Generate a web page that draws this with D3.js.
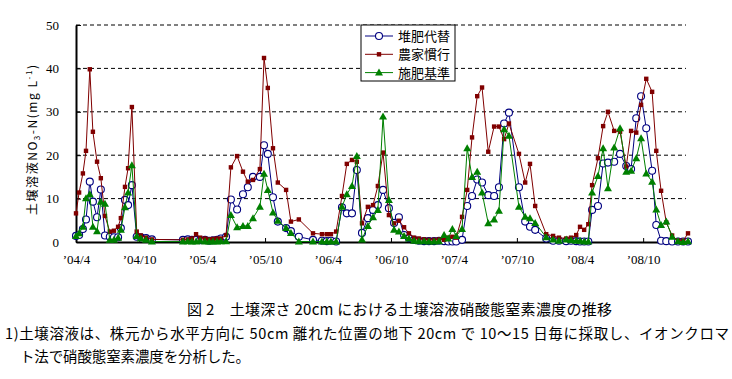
<!DOCTYPE html>
<html><head><meta charset="utf-8">
<script src="https://cdn.jsdelivr.net/npm/d3@7"></script>
<style>body{margin:0;background:#fff}svg{display:block}</style>
</head><body>
<script>
// sampling dates
const dates = [
"2004-04-01","2004-04-10","2004-04-21","2004-04-30","2004-05-11","2004-05-20","2004-06-01","2004-06-12","2004-06-24","2004-07-08","2004-07-20","2004-08-01","2004-08-09","2004-08-21","2004-08-30","2004-09-10","2004-09-24","2004-10-06","2004-10-21","2004-11-07",
"2005-02-05","2005-02-19","2005-03-03","2005-03-15","2005-03-27","2005-04-10","2005-04-22","2005-05-03","2005-05-15","2005-05-26",
"2005-06-10","2005-06-24","2005-07-12","2005-07-29","2005-08-12","2005-08-27","2005-09-16","2005-09-28","2005-10-09","2005-10-24","2005-11-07","2005-12-01","2005-12-15","2006-01-07","2006-02-17","2006-03-15","2006-03-29","2006-04-10","2006-04-25",
"2006-05-12","2006-05-26","2006-06-10","2006-06-24","2006-07-09","2006-07-26","2006-08-10","2006-08-24","2006-09-08","2006-09-25","2006-10-10","2006-10-24","2006-11-08","2006-11-22","2006-12-07","2006-12-21","2007-01-05","2007-01-19","2007-02-03","2007-02-17","2007-03-04","2007-03-16","2007-03-28","2007-04-08",
"2007-04-25","2007-05-10","2007-05-24","2007-06-08","2007-06-22","2007-07-10","2007-07-27","2007-08-10","2007-08-25","2007-09-08","2007-10-07","2007-10-25","2007-11-08","2007-11-23","2007-12-25","2008-01-14","2008-01-31","2008-02-21","2008-03-06","2008-03-21","2008-04-01","2008-04-13","2008-04-25",
"2008-05-06","2008-05-23","2008-06-07","2008-06-21","2008-07-09","2008-07-26","2008-08-13","2008-08-27","2008-09-11","2008-09-25","2008-10-10","2008-10-27","2008-11-08","2008-11-22","2008-12-07","2008-12-24","2009-01-10","2009-01-25","2009-02-08"
];
// 堆肥代替
const compost = [
1.4,1.6,3.0,5.2,13.9,9.3,5.7,12.1,1.5,1.2,1.1,1.1,3.2,9.7,8.5,13.1,1.2,1.1,0.9,0.6,
0.5,0.6,0.5,0.5,0.4,0.5,0.3,0.4,0.5,0.8,
1.2,9.8,7.5,11.0,12.6,15.0,15.0,22.3,20.3,10.3,4.7,3.2,2.5,1.2,0.5,0.3,0.2,0.3,0.1,
8.0,6.6,6.6,16.6,2.1,5.5,7.4,8.5,12.0,7.8,4.4,5.7,1.6,0.9,0.5,0.3,0.2,0.2,0.2,0.3,0.2,0.1,0.1,0.1,
0.5,8.3,10.6,14.4,13.7,10.8,10.6,12.6,27.3,29.8,12.6,4.7,3.5,2.8,0.8,0.3,0.3,0.2,0.3,0.2,0.1,0.1,0.1,
7.4,8.3,18.1,18.3,18.5,20.3,17.5,16.8,28.5,33.6,26.2,16.4,3.9,0.3,0.2,0.1,0.1,0.1,0.1
];
// 農家慣行
const farmer = [
6.6,11.4,15.8,21.0,39.8,25.4,18.5,14.7,6.0,2.4,2.6,3.5,5.5,12.7,17.0,31.1,2.4,1.5,1.0,0.6,
0.5,0.6,0.8,1.8,1.0,0.8,0.6,0.7,0.8,0.8,
1.6,17.2,19.8,16.2,13.9,14.3,16.8,42.4,35.5,21.6,13.7,12.0,4.7,5.2,2.0,1.8,1.8,1.8,2.4,
10.6,18.0,18.9,18.5,4.3,8.1,8.5,12.9,20.6,6.2,4.3,4.9,3.4,2.0,1.0,0.8,0.6,0.5,0.5,0.6,0.5,1.0,1.2,1.0,
5.8,12.0,24.1,33.6,35.6,20.8,26.6,26.6,23.7,27.3,20.3,13.7,18.0,8.3,1.8,1.4,1.0,0.8,1.0,1.6,3.5,2.8,4.1,
13.1,19.3,26.7,30.0,25.6,25.4,17.4,25.6,25.2,31.6,37.6,34.6,21.0,11.8,4.5,1.5,0.3,0.3,2.0
];
// 施肥基準
const standard = [
1.4,2.0,3.5,10.1,11.0,3.5,2.5,9.3,8.8,0.5,0.5,1.0,2.8,8.0,11.4,17.7,1.4,0.8,0.5,0.1,
0.1,0.2,0.1,0.1,0.3,0.1,0.1,0.1,0.1,0.2,
0.2,6.2,3.4,3.7,3.7,5.5,8.1,15.7,12.0,6.8,4.9,3.2,2.1,0.1,0.1,0.1,0.1,0.1,0.1,
8.1,11.0,12.9,19.8,0.6,3.7,5.7,7.4,28.9,9.7,2.8,2.4,1.4,0.8,0.3,0.2,0.2,0.1,0.1,0.2,1.6,0.8,3.0,1.4,
3.0,21.6,15.0,16.2,11.4,4.3,5.2,7.2,26.0,24.5,8.1,5.8,5.5,4.4,1.1,0.6,0.3,0.6,0.4,0.3,0.3,0.1,0.1,
11.4,15.2,21.6,12.4,21.8,26.2,16.2,16.4,19.3,23.9,15.8,13.9,7.5,3.9,4.7,1.2,0.2,0.0,0.2
];
const seriesNames = ["堆肥代替","農家慣行","施肥基準"];
const tickDates = ["2004-04-01","2004-10-01","2005-04-01","2005-10-01","2006-04-01","2006-10-01","2007-04-01","2007-10-01","2008-04-01","2008-10-01"];
const tickLabels = ["’04/4","’04/10","’05/4","’05/10","’06/4","’06/10","’07/4","’07/10","’08/4","’08/10"];
const yTicks = [0,10,20,30,40,50];
const titleText = "図 2　土壌深さ 20cm における土壌溶液硝酸態窒素濃度の推移";
const note1 = "1)土壌溶液は、株元から水平方向に 50cm 離れた位置の地下 20cm で 10～15 日毎に採取し、イオンクロマ";
const note2 = "ト法で硝酸態窒素濃度を分析した。";

const W = 732, H = 379;
const parse = d3.timeParse("%Y-%m-%d");
const svg = d3.select("body").append("svg").attr("width", W).attr("height", H)
  .style("font-family", "'Noto Sans CJK JP', sans-serif");
svg.append("rect").attr("width", W).attr("height", H).attr("fill", "#fff");

const x = d3.scaleTime().domain([parse("2004-04-01"), parse("2009-02-08")]).range([76, 688]);
const y = d3.scaleLinear().domain([0, 50]).range([242, 25]);

// gridlines
svg.append("g").selectAll("line").data(yTicks.filter(v => v > 0)).join("line")
  .attr("x1", 76).attr("x2", 686).attr("y1", d => y(d)).attr("y2", d => y(d))
  .attr("stroke", "#000").attr("stroke-width", 1).attr("stroke-dasharray", "4,3");

// y axis
const ya = svg.append("g").attr("transform", "translate(76,0)")
  .call(d3.axisLeft(y).tickValues(yTicks).tickSizeInner(-5).tickSizeOuter(0).tickPadding(17));
ya.select(".domain").attr("stroke-width", 2);
ya.selectAll("text").attr("font-family", "'Liberation Serif', serif").attr("font-size", 13).attr("fill", "#000");

// x axis
const xa = svg.append("g").attr("transform", "translate(0,242)")
  .call(d3.axisBottom(x).tickValues(tickDates.map(parse)).tickFormat((d, i) => tickLabels[i])
    .tickSizeInner(-4).tickSizeOuter(0).tickPadding(13));
xa.select(".domain").attr("stroke-width", 2);
xa.selectAll("text").attr("font-family", "'Liberation Serif', serif").attr("font-size", 13).attr("fill", "#000");

// series
const mk = arr => dates.map((d, i) => ({ date: parse(d), v: arr[i] }));
const line = d3.line().x(d => x(d.date)).y(d => y(d.v));
const series = [
  { name: seriesNames[0], data: mk(compost), color: "#000080", shape: "circle" },
  { name: seriesNames[1], data: mk(farmer), color: "#800000", shape: "square" },
  { name: seriesNames[2], data: mk(standard), color: "#008000", shape: "triangle" }
];
function drawMarker(g, shape, color) {
  if (shape === "circle") g.append("circle").attr("r", 3.5).attr("fill", "#fff").attr("stroke", color).attr("stroke-width", 1.1);
  else if (shape === "square") g.append("rect").attr("x", -2.2).attr("y", -2.2).attr("width", 4.4).attr("height", 4.4).attr("fill", color);
  else g.append("path").attr("d", "M0,-4L4,3L-4,3Z").attr("fill", color);
}
series.forEach(s => {
  svg.append("path").datum(s.data).attr("d", line).attr("fill", "none")
    .attr("stroke", s.color).attr("stroke-width", 1);
  svg.append("g").selectAll("g").data(s.data).join("g")
    .attr("transform", d => `translate(${x(d.date)},${y(d.v)})`)
    .each(function () { drawMarker(d3.select(this), s.shape, s.color); });
});

// legend
const lg = svg.append("g");
lg.append("rect").attr("x", 361).attr("y", 25).attr("width", 94).attr("height", 56)
  .attr("fill", "#fff").attr("stroke", "#000").attr("stroke-width", 1);
series.forEach((s, i) => {
  const yy = 36 + i * 18.3;
  lg.append("line").attr("x1", 365).attr("x2", 393).attr("y1", yy).attr("y2", yy).attr("stroke", s.color);
  drawMarker(lg.append("g").attr("transform", `translate(379,${yy})`), s.shape, s.color);
  lg.append("text").attr("x", 398).attr("y", yy + 5).attr("font-size", 13).text(s.name);
});

// y label
const yl = svg.append("text").attr("transform", "translate(37,140) rotate(-90)")
  .attr("text-anchor", "middle").attr("font-size", 12).attr("textLength", 150).attr("lengthAdjust", "spacing");
yl.append("tspan").text("土壌溶液NO");
yl.append("tspan").attr("font-size", 8).attr("dy", 3).text("3");
yl.append("tspan").attr("dy", -3).text("-N(mg L");
yl.append("tspan").attr("font-size", 8).attr("dy", -5).text("-1");
yl.append("tspan").attr("dy", 5).text(")");

// title & notes
svg.append("text").attr("x", 187).attr("y", 315).attr("font-size", 15)
  .attr("textLength", 425).attr("lengthAdjust", "spacing").text(titleText);
svg.append("text").attr("x", 5).attr("y", 339).attr("font-size", 14.5)
  .attr("textLength", 724).attr("lengthAdjust", "spacing").text(note1);
svg.append("text").attr("x", 20).attr("y", 362).attr("font-size", 14.5)
  .attr("textLength", 230).attr("lengthAdjust", "spacing").text(note2);
</script>
</body></html>
